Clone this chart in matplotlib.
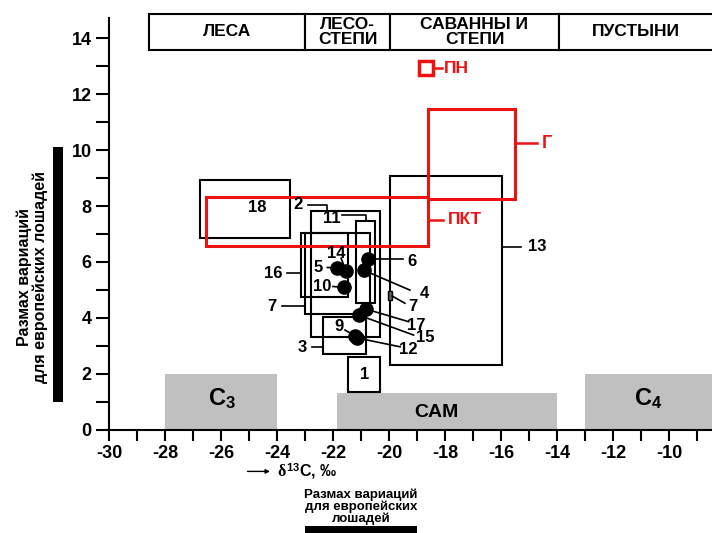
import matplotlib.pyplot as plt
from matplotlib.patches import Rectangle

plt.rcParams['font.family'] = ['Liberation Sans', 'DejaVu Sans']
plt.rcParams['font.weight'] = 'bold'
plt.rcParams['mathtext.fontset'] = 'custom'
plt.rcParams['mathtext.rm'] = 'Liberation Sans:bold'
plt.rcParams['mathtext.bf'] = 'Liberation Sans:bold'
plt.rcParams['mathtext.it'] = 'Liberation Serif'

# landscape zones along the d13C scale
zone_names = ['ЛЕСА', 'ЛЕСО-\nСТЕПИ', 'САВАННЫ И\nСТЕПИ', 'ПУСТЫНИ']
zone_edges = [-28.57, -23.0, -19.96, -13.93, -7.5]

# photosynthesis pathways
plant_names = ['C$_\\mathbf{3}$', 'CAM', 'C$_\\mathbf{4}$']
plant_x0 = [-28.0, -21.85, -13.0]
plant_x1 = [-24.0, -14.0, -7.5]
plant_top = [2.0, 1.3, 2.0]

# sample groups: d13C range (x) and range of variation (y)
box_ids = ['18', '2', '11', '16', '7', '3', '1', '13']
box_x0 = [-26.75, -22.8, -21.18, -23.15, -23.0, -22.35, -21.47, -19.96]
box_x1 = [-23.55, -20.32, -20.5, -21.46, -20.68, -20.82, -20.32, -15.96]
box_y0 = [6.86, 3.32, 4.53, 4.75, 4.14, 2.7, 1.34, 2.31]
box_y1 = [8.93, 7.82, 7.47, 7.05, 7.04, 4.04, 2.61, 9.08]

# modern herbivores (red)
red_ids = ['ПКТ', 'Г']
red_x0 = [-26.54, -18.61]
red_x1 = [-18.61, -15.5]
red_y0 = [6.57, 8.25]
red_y1 = [8.32, 11.47]
pn_x, pn_y = -18.68, 12.94

# single samples
dot_ids = ['6', '4', '14', '5', '10', '17', '15', '9', '12']
dot_x = [-20.75, -20.9, -21.54, -21.87, -21.62, -20.82, -21.06, -21.22, -21.15]
dot_y = [6.10, 5.70, 5.69, 5.79, 5.09, 4.31, 4.09, 3.36, 3.28]

# narrow sample 7 near -20
narrow_x = [-20.03, -19.89]
narrow_y = [4.64, 4.96]

# European horses
horse_x = [-23.0, -19.0]
horse_y = [1.0, 10.1]

# label position and leader line for every mark
callouts = {
    '18': ((-24.71, 7.93), 'center', []),
    '2': ((-23.25, 8.04), 'center', [(-22.89, 8.04), (-22.21, 8.04), (-22.21, 7.82)]),
    '11': ((-22.04, 7.56), 'center', [(-21.69, 7.67), (-20.83, 7.67), (-20.83, 7.47)]),
    '16': ((-24.14, 5.57), 'center', [(-23.64, 5.59), (-23.15, 5.59)]),
    '7a': ((-24.19, 4.42), 'center', [(-23.83, 4.42), (-23.0, 4.42)]),
    '3': ((-23.09, 2.94), 'center', [(-22.74, 2.94), (-22.35, 2.94)]),
    '1': ((-20.88, 1.97), 'center', []),
    '13': ((-15.05, 6.54), 'left', [(-15.96, 6.54), (-15.29, 6.54)]),
    '6': ((-19.19, 6.03), 'center', [(-20.62, 6.09), (-19.49, 6.09)]),
    '4': ((-18.75, 4.87), 'center', [(-20.9, 5.7), (-19.25, 4.99)]),
    '14': ((-21.87, 6.31), 'center', [(-21.71, 6.13), (-21.6, 5.85)]),
    '5': ((-22.52, 5.81), 'center', [(-22.2, 5.8), (-21.95, 5.79)]),
    '10': ((-22.4, 5.12), 'center', [(-22.0, 5.12), (-21.7, 5.09)]),
    '17': ((-19.01, 3.74), 'center', [(-20.82, 4.31), (-19.3, 3.86)]),
    '15': ((-18.71, 3.29), 'center', [(-21.06, 4.09), (-19.12, 3.38)]),
    '12': ((-19.3, 2.85), 'center', [(-21.15, 3.28), (-19.6, 2.96)]),
    '9': ((-21.8, 3.68), 'center', [(-21.57, 3.56), (-21.33, 3.42)]),
    '7b': ((-19.13, 4.4), 'center', [(-19.89, 4.78), (-19.43, 4.52)]),
}

fig = plt.figure(figsize=(7.12, 5.33), dpi=100)
ax = fig.add_axes([109 / 712, 1 - 429.5 / 533, 603 / 712, 411.5 / 533])
ax.set_xlim(-30, -8.46)
ax.set_ylim(0, 14.73)

for s in ['top', 'right']:
    ax.spines[s].set_visible(False)
for s in ['left', 'bottom']:
    ax.spines[s].set_linewidth(1.5)

ax.set_xticks(range(-30, -8))
ax.set_xticklabels([str(v) if v % 2 == 0 else '' for v in range(-30, -8)])
ax.set_yticks(range(0, 15))
ax.set_yticklabels([str(v) if v % 2 == 0 else '' for v in range(0, 15)])
ax.tick_params(axis='x', direction='out', length=8, width=1.5, labelsize=13, pad=3)
ax.tick_params(axis='y', direction='out', length=9.5, width=1.5, labelsize=13, pad=3)
for lab in ax.get_xticklabels() + ax.get_yticklabels():
    lab.set_fontweight('bold')

# photosynthesis fields
for name, x0, x1, top in zip(plant_names, plant_x0, plant_x1, plant_top):
    ax.add_patch(Rectangle((x0, 0), x1 - x0, top, facecolor='#c0c0c0',
                           edgecolor='none', zorder=1, clip_on=False))
ax.text(-25.95, 1.1, plant_names[0], fontsize=17, ha='center', va='center')
ax.text(-18.3, 0.62, plant_names[1], fontsize=14, ha='center', va='center')
ax.text(-10.75, 1.1, plant_names[2], fontsize=17, ha='center', va='center')

# zone header
for i, name in enumerate(zone_names):
    x0, x1 = zone_edges[i], zone_edges[i + 1]
    ax.add_patch(Rectangle((x0, 13.58), x1 - x0, 1.3, facecolor='white',
                           edgecolor='black', lw=1.5, clip_on=False, zorder=3))
    xc = (x0 + min(x1, -8.46)) / 2
    ax.text(xc, 14.23, name, ha='center', va='center', fontsize=12.5,
            linespacing=1.0, zorder=4)

# sample group boxes
for bid, x0, x1, y0, y1 in zip(box_ids, box_x0, box_x1, box_y0, box_y1):
    ax.add_patch(Rectangle((x0, y0), x1 - x0, y1 - y0, facecolor='none',
                           edgecolor='black', lw=1.5, zorder=3))
ax.add_patch(Rectangle((narrow_x[0], narrow_y[0]), narrow_x[1] - narrow_x[0],
                       narrow_y[1] - narrow_y[0], facecolor='#606060',
                       edgecolor='black', lw=1, zorder=3))

# modern herbivores
for rid, x0, x1, y0, y1 in zip(red_ids, red_x0, red_x1, red_y0, red_y1):
    ax.add_patch(Rectangle((x0, y0), x1 - x0, y1 - y0, facecolor='none',
                           edgecolor='#ee1111', lw=2.2, zorder=5))
ax.plot([pn_x], [pn_y], marker='s', ms=9.5, mfc='white', mec='#ee1111', mew=2.5, zorder=5)

ax.plot([-15.5, -14.72], [10.25, 10.25], color='#ee1111', lw=1.8, zorder=5)
ax.text(-14.54, 10.25, 'Г', color='#ee1111', fontsize=13, va='center', ha='left')
ax.plot([-18.61, -18.07], [7.5, 7.5], color='#ee1111', lw=1.8, zorder=5)
ax.text(-17.89, 7.5, 'ПКТ', color='#ee1111', fontsize=12.5, va='center', ha='left')
ax.plot([-18.43, -18.1], [pn_y, pn_y], color='#ee1111', lw=1.8, zorder=5)
ax.text(-18.02, pn_y, 'ПН', color='#ee1111', fontsize=12.5, va='center', ha='left')

# single samples
ax.plot(dot_x, dot_y, 'o', color='black', ms=9.5, zorder=6)

for key, ((tx, ty), ha, leader) in callouts.items():
    if leader:
        ax.plot([p[0] for p in leader], [p[1] for p in leader], color='black',
                lw=1.2, zorder=4)
    ax.text(tx, ty, key.rstrip('ab'), ha=ha, va='center', fontsize=12, zorder=7)

# European horse ranges
ax.add_patch(Rectangle((-32.0, horse_y[0]), 0.36, horse_y[1] - horse_y[0],
                       facecolor='black', clip_on=False))
ax.text(-32.75, 5.45, 'Размах вариаций\nдля европейских лошадей', rotation=90,
        ha='center', va='center', fontsize=11.5, linespacing=1.0,
        multialignment='center')
ax.add_patch(Rectangle((horse_x[0], -3.76), horse_x[1] - horse_x[0], 0.3,
                       facecolor='black', clip_on=False))
ax.text(-21.0, -2.77, 'Размах вариаций\nдля европейских\nлошадей', ha='center',
        va='center', fontsize=9.5, linespacing=0.92, multialignment='center')

# axis name
ax.annotate('', xy=(-24.15, -1.5), xytext=(-25.15, -1.5), annotation_clip=False,
            arrowprops=dict(arrowstyle='-|>', color='black', lw=1, mutation_scale=6))
ax.text(-24.0, -1.5, '$\\delta^{\\mathbf{13}}$C, ‰', ha='left', va='center', fontsize=11.5)

fig.savefig('out.png', dpi=100)
